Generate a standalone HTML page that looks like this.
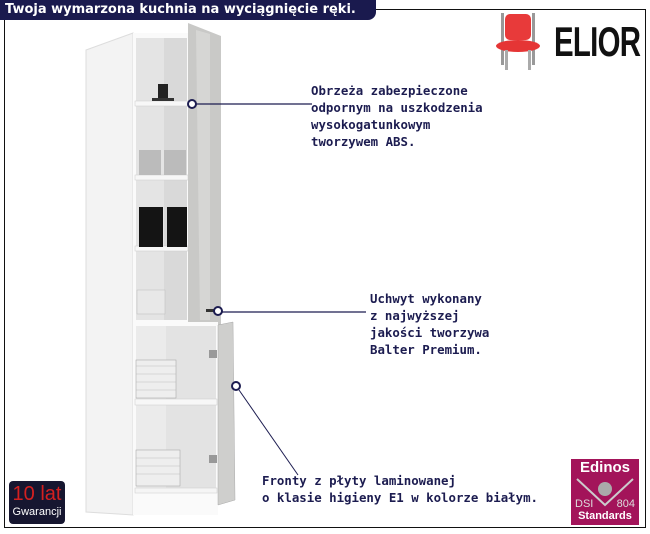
<!DOCTYPE html>
<html><head><meta charset="utf-8"><style>
body{margin:0;width:650px;height:534px;background:#fff;position:relative;overflow:hidden;font-family:"DejaVu Sans Mono","Liberation Mono",monospace}
.t{position:absolute;color:#1c1c50;font-weight:bold;font-size:12.4px;line-height:17px;white-space:nowrap}
</style></head><body>
<div style="position:absolute;left:4px;top:9px;width:640px;height:517px;border:1.5px solid #111"></div>
<div style="position:absolute;left:0;top:0;width:376px;height:20px;background:#1a1a4e;border-bottom-right-radius:8px;color:#fff;font:bold 13px 'DejaVu Sans',sans-serif;line-height:19px;padding-left:5px;box-sizing:border-box">Twoja wymarzona kuchnia na wyciągnięcie ręki.</div>
<svg width="650" height="534" style="position:absolute;left:0;top:0">
<polygon points="86,50 133,33 133,515 86,512" fill="#f3f3f3" stroke="#ddd"/>
<rect x="133" y="33" width="56" height="290" fill="#fafafa"/>
<rect x="136" y="38" width="51" height="282" fill="#d9d9d9"/>
<rect x="136" y="38" width="28" height="282" fill="#e4e4e4"/>
<g fill="#f7f7f7" stroke="#ccc" stroke-width=".5">
<rect x="135" y="101" width="53" height="5"/><rect x="135" y="175" width="53" height="5"/><rect x="135" y="246" width="53" height="5"/>
</g>
<rect x="158" y="84" width="10" height="14" fill="#222"/><rect x="152" y="98" width="22" height="3" fill="#333"/>
<rect x="139" y="150" width="22" height="25" fill="#bbb"/><rect x="164" y="150" width="22" height="25" fill="#bbb"/>
<rect x="139" y="207" width="24" height="40" fill="#141414"/><rect x="167" y="207" width="20" height="40" fill="#141414"/>
<rect x="137" y="290" width="28" height="24" fill="#e8e8e8" stroke="#bbb" stroke-width=".5"/>
<polygon points="188,23 221,36 221,325 188,325" fill="#c9c9c7"/>
<polygon points="196,30 210,34 210,320 200,320" fill="#d6d6d4"/>
<rect x="133" y="322" width="85" height="193" fill="#fafafa"/>
<rect x="136" y="326" width="80" height="162" fill="#e3e3e3"/>
<rect x="136" y="326" width="30" height="162" fill="#ebebeb"/>
<rect x="135" y="399" width="82" height="6" fill="#f7f7f7" stroke="#ccc" stroke-width=".5"/>
<rect x="135" y="488" width="82" height="5" fill="#f5f5f5" stroke="#ccc" stroke-width=".5"/>
<g fill="#eee" stroke="#aaa" stroke-width=".6">
<rect x="136" y="360" width="40" height="38"/><rect x="136" y="450" width="44" height="36"/></g>
<g stroke="#bbb" stroke-width=".6"><line x1="136" y1="366" x2="176" y2="366"/><line x1="136" y1="374" x2="176" y2="374"/><line x1="136" y1="382" x2="176" y2="382"/><line x1="136" y1="390" x2="176" y2="390"/><line x1="136" y1="458" x2="180" y2="458"/><line x1="136" y1="466" x2="180" y2="466"/><line x1="136" y1="474" x2="180" y2="474"/></g>
<rect x="209" y="350" width="8" height="8" fill="#999"/><rect x="209" y="455" width="8" height="8" fill="#999"/>
<polygon points="218,325 233,322 235,500 218,505" fill="#cfcfcd" stroke="#aaa" stroke-width=".5"/>
<rect x="206" y="309" width="8" height="3" fill="#333"/>
<g stroke="#1c1c50" fill="none">
<line x1="196" y1="104" x2="312" y2="104" stroke-width="1.2"/>
<line x1="222" y1="312" x2="366" y2="312" stroke-width="1.2"/>
<line x1="239" y1="390" x2="298" y2="475" stroke-width="1"/>
<g fill="#fff" stroke-width="2"><circle cx="192" cy="104" r="4"/><circle cx="218" cy="311" r="4"/><circle cx="236" cy="386" r="4"/></g>
</g>
<g>
<rect x="505" y="14" width="26" height="26" rx="5" fill="#e83a3a"/>
<rect x="501" y="13" width="3" height="52" fill="#999"/><rect x="532" y="13" width="3" height="52" fill="#999"/>
<ellipse cx="518" cy="46" rx="22" ry="6" fill="#e53535"/>
<rect x="505" y="50" width="3" height="20" fill="#aaa"/><rect x="528" y="50" width="3" height="20" fill="#aaa"/>
</g>
</svg>
<div style="position:absolute;left:554px;top:18px;font:bold 42px 'Liberation Sans Narrow','Liberation Sans',sans-serif;color:#111;transform:scaleX(.7);transform-origin:left;letter-spacing:-1px">ELIOR</div>
<div class="t" style="left:311px;top:82px">Obrzeża zabezpieczone<br>odpornym na uszkodzenia<br>wysokogatunkowym<br>tworzywem ABS.</div>
<div class="t" style="left:370px;top:290px">Uchwyt wykonany<br>z najwyższej<br>jakości tworzywa<br>Balter Premium.</div>
<div class="t" style="left:262px;top:472px">Fronty z płyty laminowanej<br>o klasie higieny E1 w kolorze białym.</div>
<div style="position:absolute;left:9px;top:481px;width:56px;height:43px;background:#161630;border-radius:4px;text-align:center;font-family:'Liberation Sans',sans-serif">
<div style="color:#d42020;font-size:20px;line-height:22px;margin-top:2px">10 lat</div>
<div style="color:#fff;font-size:11px;line-height:14px">Gwarancji</div></div>
<div style="position:absolute;left:571px;top:459px;width:68px;height:66px;background:#a3145a;font-family:'Liberation Sans',sans-serif;color:#fff;text-align:center">
<div style="font-size:15px;font-weight:bold;line-height:18px">Edinos</div>
<svg width="68" height="30" style="position:absolute;left:0;top:18px"><polyline points="6,2 34,28 62,2" fill="none" stroke="#ccc" stroke-width="2"/><circle cx="34" cy="12" r="7" fill="#aaa"/></svg>
<div style="position:absolute;left:4px;top:39px;font-size:11px;color:#ddd">DSI</div>
<div style="position:absolute;right:4px;top:39px;font-size:11px;color:#ddd">804</div>
<div style="position:absolute;left:0;width:68px;top:51px;font-size:11px;font-weight:bold">Standards</div>
</div>
</body></html>
